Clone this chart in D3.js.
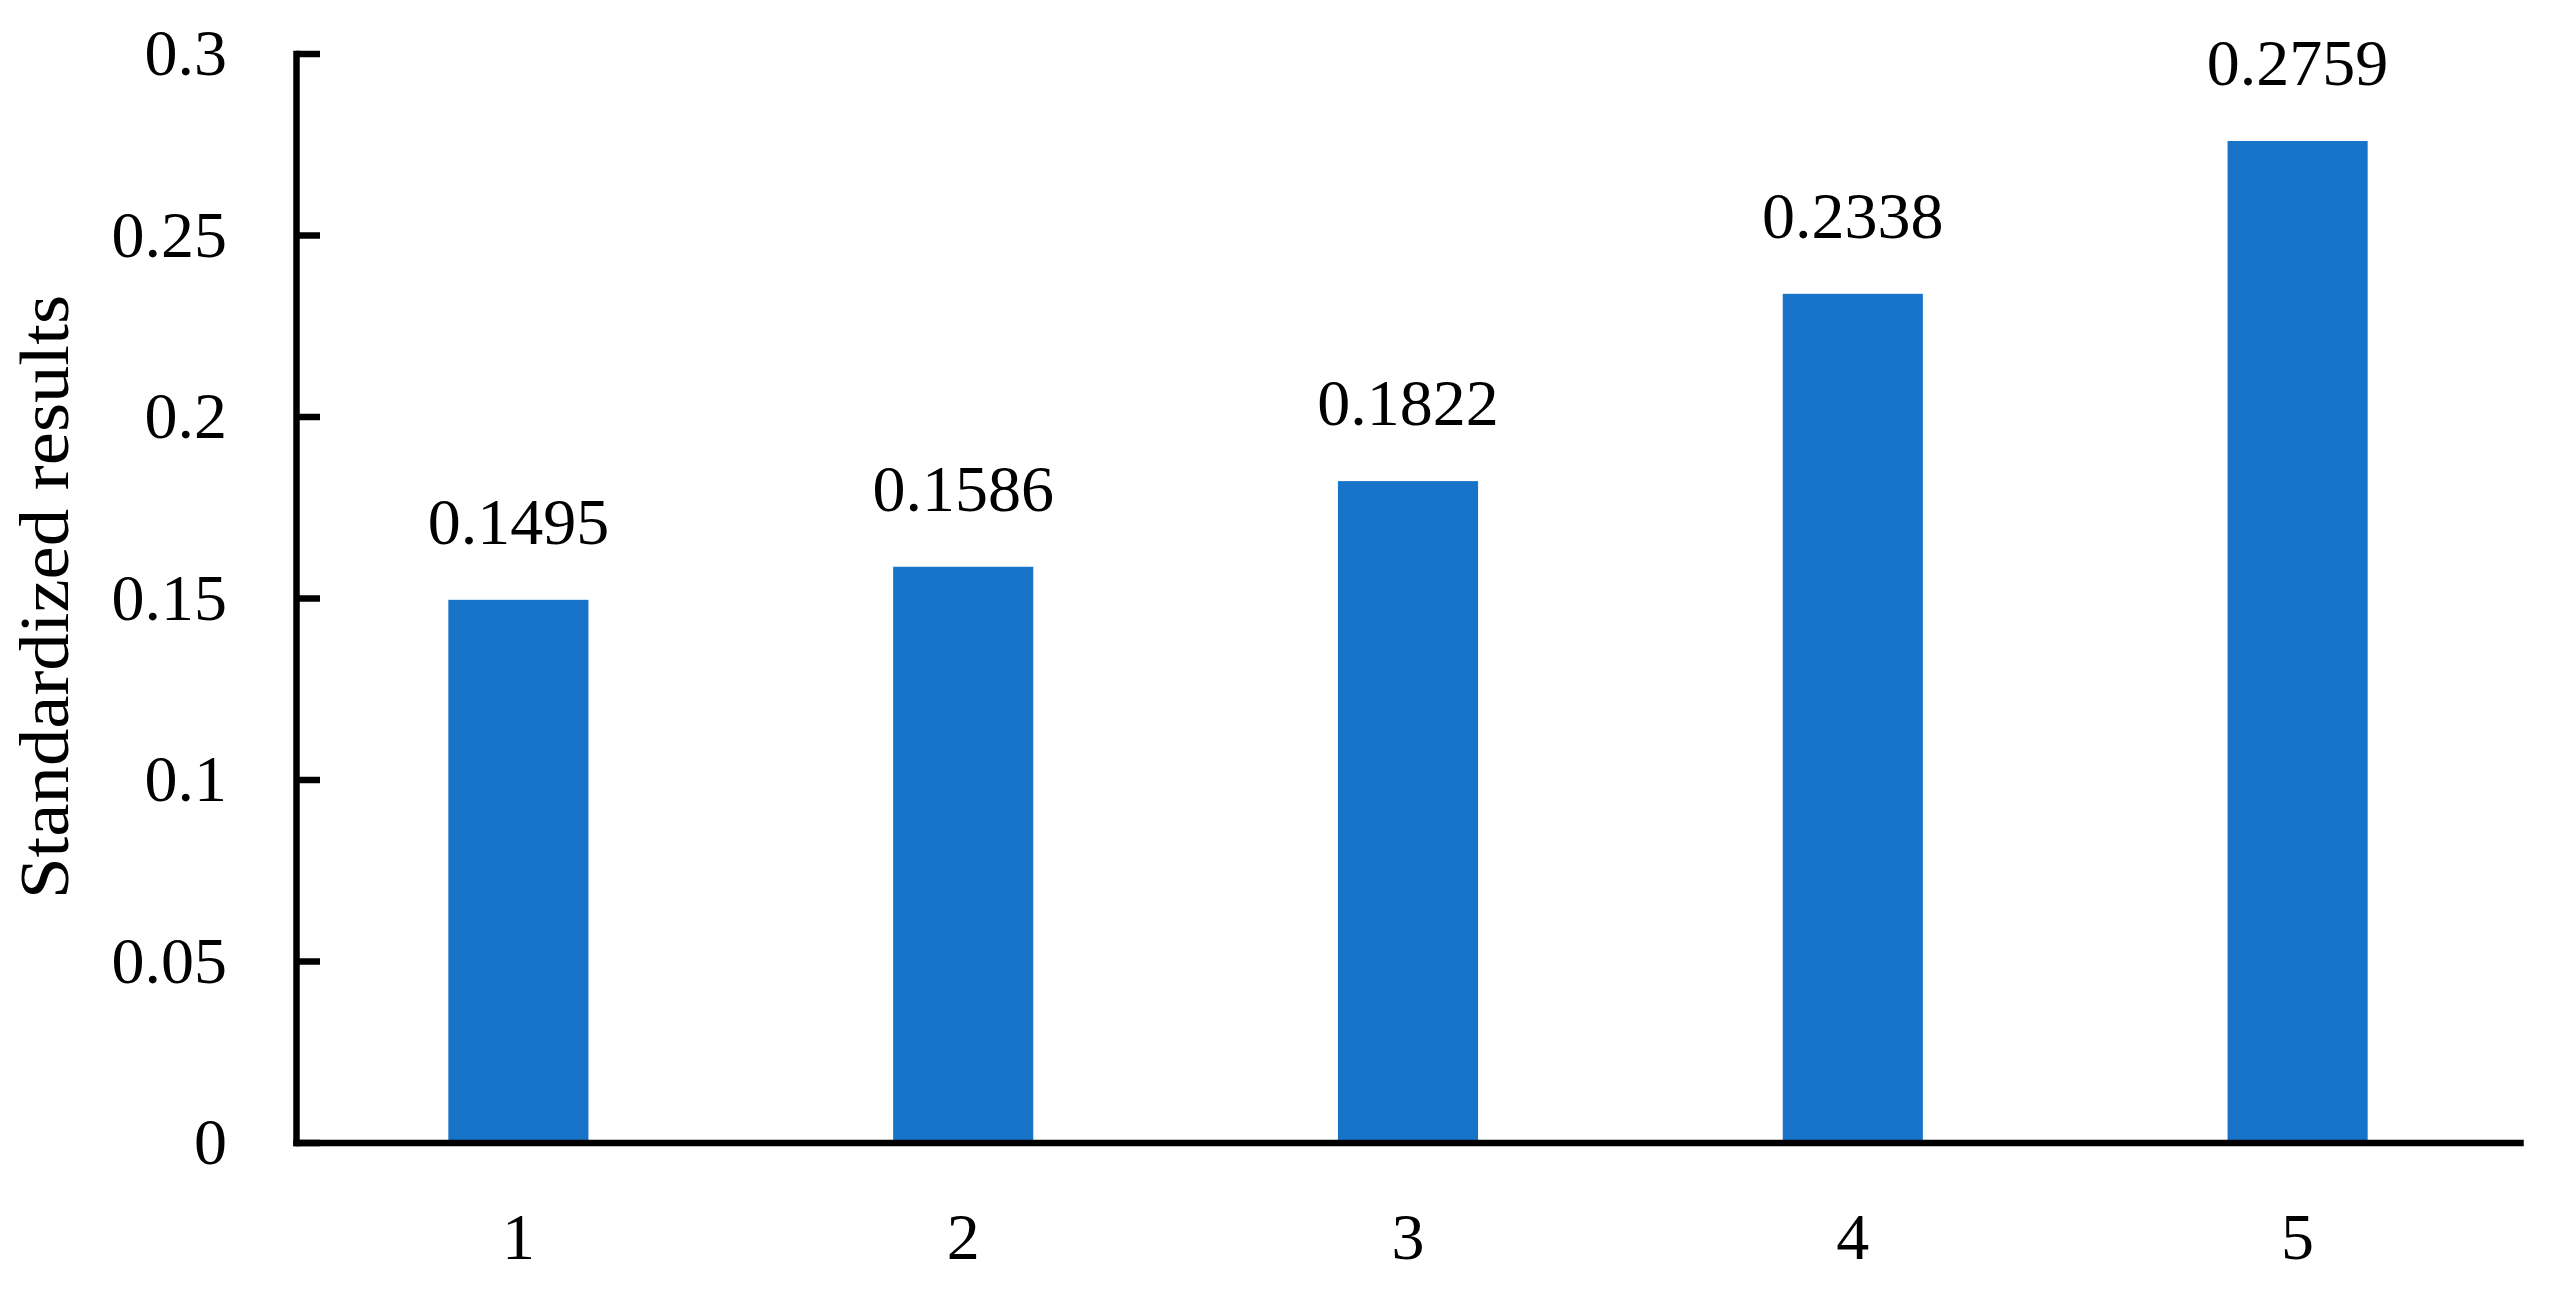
<!DOCTYPE html>
<html>
<head>
<meta charset="utf-8">
<script src="https://cdn.jsdelivr.net/npm/d3@7"></script>
<style>
  html, body { margin: 0; padding: 0; background: #ffffff; }
  svg { display: block; }
  text { font-family: "Palatino Linotype", "Book Antiqua", Palatino, "Liberation Serif", serif; fill: #000; }
</style>
</head>
<body>
<svg id="chart" width="2553" height="1295"></svg>
<script>
const categories = ["1", "2", "3", "4", "5"];
const values = [0.1495, 0.1586, 0.1822, 0.2338, 0.2759];
const valueLabels = ["0.1495", "0.1586", "0.1822", "0.2338", "0.2759"];
const yTicks = [0, 0.05, 0.1, 0.15, 0.2, 0.25, 0.3];
const yTickLabels = ["0", "0.05", "0.1", "0.15", "0.2", "0.25", "0.3"];
const yTitle = "Standardized results";

const W = 2553, H = 1295;
const axisX = 296, axisRight = 2520, yTop = 53.5, yZero = 1142.5;
const fontSize = 66;
const barColor = "#1874c9";

const svg = d3.select("#chart");

const x = d3.scaleBand()
  .domain(categories)
  .range([axisX, axisRight])
  .paddingInner(0.685)
  .paddingOuter(0.3425);

const y = d3.scaleLinear()
  .domain([0, 0.3])
  .range([yZero, yTop]);

// bars
svg.append("g")
  .selectAll("rect")
  .data(values)
  .join("rect")
  .attr("x", (d, i) => x(categories[i]))
  .attr("width", x.bandwidth())
  .attr("y", d => y(d))
  .attr("height", d => y(0) - y(d))
  .attr("fill", barColor);

// value labels
svg.append("g")
  .selectAll("text")
  .data(values)
  .join("text")
  .attr("x", (d, i) => x(categories[i]) + x.bandwidth() / 2)
  .attr("y", d => y(d) - 56)
  .attr("text-anchor", "middle")
  .style("font-size", fontSize + "px")
  .text((d, i) => valueLabels[i]);

// y axis
const yAxis = d3.axisLeft(y)
  .tickValues(yTicks)
  .tickFormat((d, i) => yTickLabels[i])
  .tickSizeInner(-24)
  .tickSizeOuter(0)
  .tickPadding(69);

const gy = svg.append("g")
  .attr("transform", `translate(${axisX},0)`)
  .call(yAxis);
gy.select(".domain").attr("stroke", "#000").attr("stroke-width", 6.5).attr("stroke-linecap", "square");
gy.selectAll(".tick line").attr("stroke", "#000").attr("stroke-width", 6.5);
gy.selectAll(".tick text")
  .attr("font-family", null)
  .attr("font-size", null)
  .style("font-size", fontSize + "px")
  .attr("fill", "#000");

// x axis
const xAxis = d3.axisBottom(x)
  .tickSize(0)
  .tickSizeOuter(0)
  .tickPadding(70);

const gx = svg.append("g")
  .attr("transform", `translate(0,${yZero})`)
  .call(xAxis);
gx.select(".domain").attr("stroke", "#000").attr("stroke-width", 6.5).attr("stroke-linecap", "square");
gx.selectAll(".tick line").remove();
gx.selectAll(".tick text")
  .attr("font-family", null)
  .attr("font-size", null)
  .style("font-size", fontSize + "px")
  .attr("fill", "#000");

// y title
svg.append("text")
  .attr("transform", "translate(68,597) rotate(-90)")
  .attr("text-anchor", "middle")
  .attr("textLength", 604)
  .attr("lengthAdjust", "spacingAndGlyphs")
  .style("font-size", "70px")
  .text(yTitle);
</script>
</body>
</html>
